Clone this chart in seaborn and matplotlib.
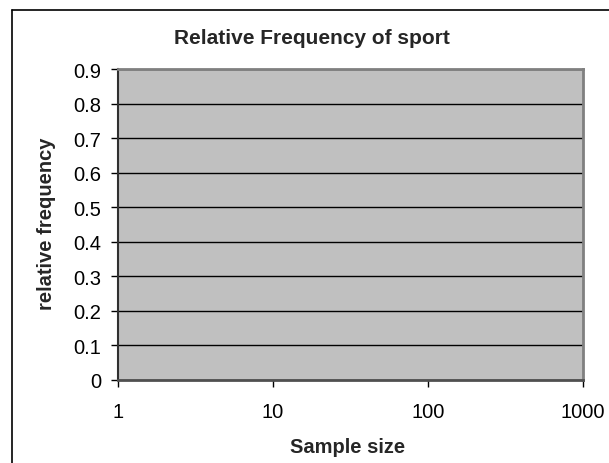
import matplotlib
matplotlib.use("Agg")
import matplotlib.pyplot as plt
import seaborn as sns
from matplotlib.lines import Line2D
from matplotlib.ticker import FixedLocator, FixedFormatter, NullLocator

# Data (the reference chart contains no plotted points)
sample_sizes = []
relative_freq = []
x_ticks = [1, 10, 100, 1000]
x_tick_labels = ["1", "10", "100", "1000"]
y_ticks = [0, 0.1, 0.2, 0.3, 0.4, 0.5, 0.6, 0.7, 0.8, 0.9]
y_tick_labels = ["0", "0.1", "0.2", "0.3", "0.4", "0.5", "0.6", "0.7", "0.8", "0.9"]
title = "Relative Frequency of sport"
x_label = "Sample size"
y_label = "relative frequency"

sns.set_style("white")
plt.rcParams["font.family"] = ["Liberation Sans", "DejaVu Sans"]

W, H = 609, 464
fig = plt.figure(figsize=(W / 100, H / 100), dpi=100)
fig.patch.set_facecolor("white")

left, right, top, bottom = 118, 583, 70, 381
ax = fig.add_axes([left / W, 1 - bottom / H, (right - left) / W, (bottom - top) / H])
ax.set_facecolor("#C0C0C0")

sns.lineplot(x=sample_sizes, y=relative_freq, ax=ax, color="#000080")

ax.set_xscale("log")
ax.set_xlim(1, 1000)
ax.set_ylim(0, 0.9)
ax.xaxis.set_major_locator(FixedLocator(x_ticks))
ax.xaxis.set_major_formatter(FixedFormatter(x_tick_labels))
ax.xaxis.set_minor_locator(NullLocator())
ax.yaxis.set_major_locator(FixedLocator(y_ticks))
ax.yaxis.set_major_formatter(FixedFormatter(y_tick_labels))

ax.grid(True, axis="y", color="black", linewidth=1.0)
ax.grid(False, axis="x")
ax.set_axisbelow(True)

for side in ["top", "right"]:
    ax.spines[side].set_color("#808080")
    ax.spines[side].set_linewidth(2.0)
ax.spines["left"].set_color("#303030")
ax.spines["left"].set_linewidth(1.5)
ax.spines["bottom"].set_color("#505050")
ax.spines["bottom"].set_linewidth(2.0)

ax.tick_params(axis="both", direction="out", length=5, width=1.0, color="black",
               labelsize=14.5, labelcolor="black", left=True, bottom=True)
ax.tick_params(axis="y", pad=7)
ax.tick_params(axis="x", pad=11)

ax.set_xlabel("")
ax.set_ylabel("")

fig.text(312 / W, 1 - 38.5 / H, title, ha="center", va="center",
         fontsize=15, fontweight="bold")
fig.text(348 / W, 1 - 448 / H, x_label, ha="center", va="center",
         fontsize=14.5, fontweight="bold")
fig.text(47 / W, 1 - 224 / H, y_label, ha="center", va="center",
         rotation=90, fontsize=14.5, fontweight="bold")

# Chart area border (cut off at right and bottom edges)
bx, by = 11.5 / W, 1 - 10.5 / H
fig.add_artist(Line2D([bx, 1.01], [by, by], transform=fig.transFigure,
                      color="black", linewidth=1.2))
fig.add_artist(Line2D([bx, bx], [-0.01, by], transform=fig.transFigure,
                      color="black", linewidth=1.2))

fig.savefig("out.png", dpi=100)
